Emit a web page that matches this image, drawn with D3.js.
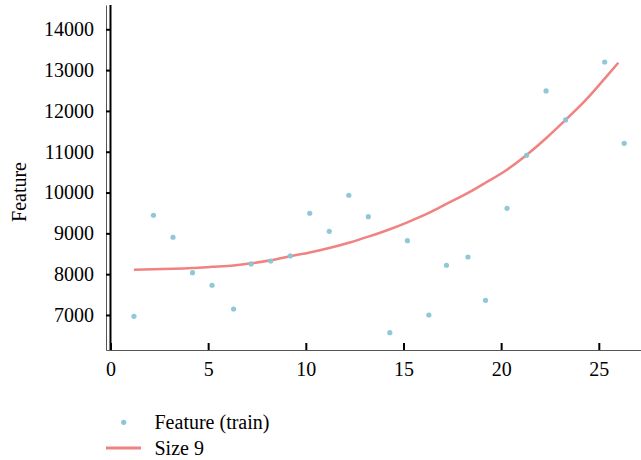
<!DOCTYPE html>
<html>
<head>
<meta charset="utf-8">
<script src="https://cdn.jsdelivr.net/npm/d3@7"></script>
<style>
    body { margin: 0; background: #fff; }
    text { font-family: "Liberation Serif", serif; fill: #000; }
</style>
</head>
<body>
<div id="chart"></div>
<script>
// Data
const trainX = [1.2, 2.2, 3.2, 4.2, 5.2, 6.3, 7.2, 8.2, 9.2, 10.2, 11.2, 12.2, 13.2,
    14.3, 15.2, 16.3, 17.2, 18.3, 19.2, 20.3, 21.3, 22.3, 23.3, 25.3, 26.3];
const trainY = [6968, 9443, 8904, 8036, 7728, 7147, 8250, 8323, 8446, 9492, 9050, 9933, 9409,
    6566, 8821, 7000, 8218, 8421, 7360, 9614, 10913, 12489, 11778, 13199, 11207];
const fitX = [1.2, 2.2, 3.2, 4.2, 5.2, 6.3, 7.2, 8.2, 9.2, 10.2, 11.2, 12.2, 13.2,
    14.3, 15.2, 16.3, 17.2, 18.3, 19.2, 20.3, 21.3, 22.3, 23.3, 24.3, 25.3, 26.0];
const fitY = [8110, 8118, 8130, 8150, 8180, 8215, 8265, 8340, 8440, 8530, 8640, 8770, 8920,
    9100, 9270, 9500, 9720, 9990, 10240, 10560, 10920, 11330, 11780, 12250, 12790, 13180];
const xTicks = [0, 5, 10, 15, 20, 25];
const yTicks = [7000, 8000, 9000, 10000, 11000, 12000, 13000, 14000];
const legendLabels = ['Feature (train)', 'Size 9'];

const dotColor = '#8ac6d3';
const lineColor = '#f08282';
const fontSize = 20;

// Dimensions
const dimensions = {
    width: 641,
    height: 460,
    margin: { top: 5, bottom: 110, left: 106, right: 0 },
};
dimensions.ctrWidth = dimensions.width - dimensions.margin.left - dimensions.margin.right;
dimensions.ctrHeight = dimensions.height - dimensions.margin.top - dimensions.margin.bottom;

const svg = d3.select('#chart')
    .append('svg')
    .attr('width', dimensions.width)
    .attr('height', dimensions.height);

const ctr = svg.append('g')
    .attr('transform', `translate(${dimensions.margin.left}, ${dimensions.margin.top})`);

// Scales
const xScale = d3.scaleLinear()
    .domain([-0.23, 27.16])
    .range([0, dimensions.ctrWidth]);

const yScale = d3.scaleLinear()
    .domain([6142, 14595])
    .range([dimensions.ctrHeight, 0]);

// Axes
const xAxis = d3.axisBottom(xScale)
    .tickValues(xTicks)
    .tickFormat(d3.format('d'))
    .tickSizeInner(-7)
    .tickSizeOuter(0)
    .tickPadding(12);

const yAxis = d3.axisLeft(yScale)
    .tickValues(yTicks)
    .tickFormat(d3.format('d'))
    .tickSizeInner(0)
    .tickSizeOuter(0)
    .tickPadding(12);

const xAxisGroup = ctr.append('g')
    .attr('transform', `translate(0, ${dimensions.ctrHeight})`)
    .call(xAxis);
xAxisGroup.select('.domain').attr('stroke', '#555').attr('stroke-width', 1);
xAxisGroup.selectAll('.tick line').attr('stroke', '#000').attr('stroke-width', 2);
xAxisGroup.selectAll('.tick text').attr('font-size', fontSize).attr('fill', '#000')
    .style('font-family', '"Liberation Serif", serif');

const yAxisGroup = ctr.append('g').call(yAxis);
yAxisGroup.select('.domain').attr('stroke', '#555').attr('stroke-width', 1);
yAxisGroup.selectAll('.tick text').attr('font-size', fontSize).attr('fill', '#000')
    .style('font-family', '"Liberation Serif", serif');

// ticks between the left spine and the zero line
yAxisGroup.selectAll('.tick')
    .append('line')
    .attr('x1', 0)
    .attr('x2', xScale(0))
    .attr('stroke', '#000')
    .attr('stroke-width', 2);

// thick zero line
ctr.append('line')
    .attr('x1', xScale(0))
    .attr('x2', xScale(0))
    .attr('y1', 0)
    .attr('y2', dimensions.ctrHeight)
    .attr('stroke', '#000')
    .attr('stroke-width', 2);

// Axis label
svg.append('text')
    .attr('transform', `translate(26, 192) rotate(-90)`)
    .attr('text-anchor', 'middle')
    .attr('font-size', fontSize)
    .text('Feature');

// Fitted line
const line = d3.line()
    .x((d, i) => xScale(fitX[i]))
    .y((d) => yScale(d))
    .curve(d3.curveMonotoneX);

ctr.append('path')
    .datum(fitY)
    .attr('d', line)
    .attr('fill', 'none')
    .attr('stroke', lineColor)
    .attr('stroke-width', 2.5)
    .attr('stroke-linejoin', 'round');

// Points
ctr.selectAll('circle.pt')
    .data(trainY)
    .join('circle')
    .attr('class', 'pt')
    .attr('cx', (d, i) => xScale(trainX[i]))
    .attr('cy', (d) => yScale(d))
    .attr('r', 2.6)
    .attr('fill', dotColor)
    .attr('fill-opacity', 0.95);

// Legend
const legend = svg.append('g');
legend.append('circle')
    .attr('cx', 123.7)
    .attr('cy', 422.3)
    .attr('r', 2.6)
    .attr('fill', dotColor);
legend.append('line')
    .attr('x1', 106)
    .attr('x2', 141)
    .attr('y1', 448)
    .attr('y2', 448)
    .attr('stroke', lineColor)
    .attr('stroke-width', 3);
legend.selectAll('text')
    .data(legendLabels)
    .join('text')
    .attr('x', 154.5)
    .attr('y', (d, i) => 429 + i * 26)
    .attr('font-size', fontSize)
    .text((d) => d);
</script>
</body>
</html>
